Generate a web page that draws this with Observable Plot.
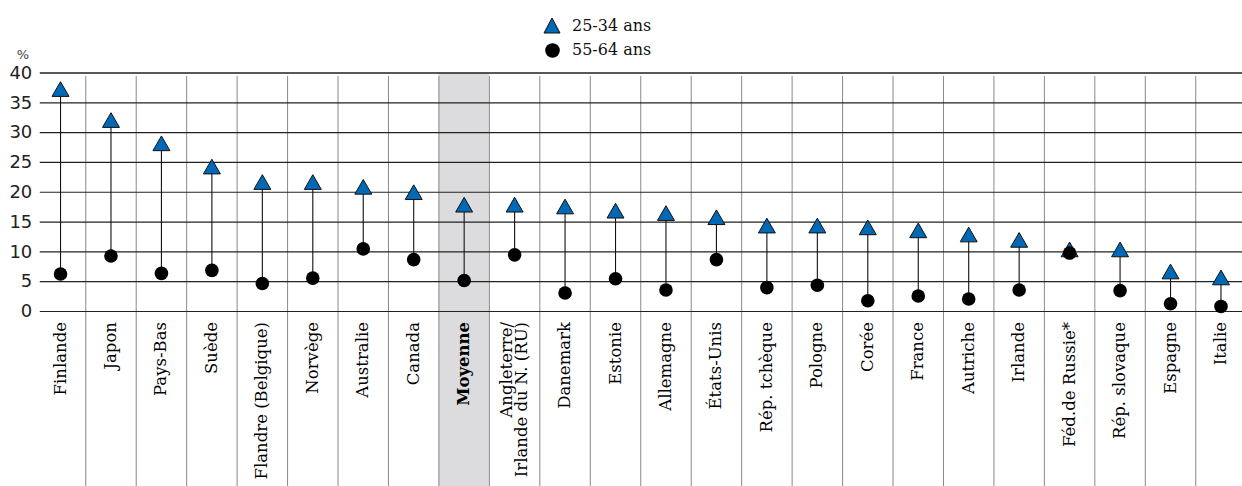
<!DOCTYPE html>
<html>
<head>
<meta charset="utf-8">
<script src="https://cdn.jsdelivr.net/npm/d3@7"></script>
<script src="https://cdn.jsdelivr.net/npm/@observablehq/plot@0.6"></script>
<style>
  body { margin: 0; background: #fff; }
  #wrap { position: relative; width: 1242px; height: 486px; }
  .leg { position: absolute; font-family: "DejaVu Serif", serif; font-size: 16px; line-height: 20px; color: #111; white-space: nowrap; }
  .sym { position: absolute; }
</style>
</head>
<body>
<div id="wrap">
  <svg class="sym" style="left:543px;top:17px" width="18" height="17"><polygon points="9,1 17,16 1,16" fill="#0068b4" stroke="#111" stroke-width="1"/></svg>
  <div class="leg" style="left:572px;top:16px">25-34 ans</div>
  <svg class="sym" style="left:544px;top:42px" width="17" height="17"><circle cx="8.5" cy="8.5" r="7.3" fill="#000"/></svg>
  <div class="leg" style="left:572px;top:40px">55-64 ans</div>
</div>
<script>
const countries = ["Finlande","Japon","Pays-Bas","Suède","Flandre (Belgique)","Norvège","Australie","Canada","Moyenne","Angleterre/\nIrlande du N. (RU)","Danemark","Estonie","Allemagne","États-Unis","Rép. tchèque","Pologne","Corée","France","Autriche","Irlande","Féd.de Russie*","Rép. slovaque","Espagne","Italie"];
const young = [36.9, 31.7, 27.8, 23.9, 21.3, 21.3, 20.5, 19.6, 17.5, 17.5, 17.2, 16.5, 16.1, 15.4, 14.0, 14.0, 13.7, 13.2, 12.5, 11.6, 10.0, 10.0, 6.3, 5.3];
const old = [6.3, 9.3, 6.4, 6.9, 4.7, 5.6, 10.5, 8.7, 5.2, 9.5, 3.1, 5.5, 3.6, 8.7, 4.0, 4.4, 1.8, 2.6, 2.1, 3.6, 9.8, 3.5, 1.3, 0.85];
const yTicks = [0, 5, 10, 15, 20, 25, 30, 35, 40];
const average = "Moyenne";

const data = countries.map((c, i) => ({country: c, young: young[i], old: old[i]}));
const xRange = [34.8, 1245.7];
const bw = (xRange[1] - xRange[0]) / countries.length;
const yBottom = -30;

const chart = Plot.plot({
  width: 1242,
  height: 486,
  marginLeft: 34.8,
  marginRight: 0,
  marginTop: 72.5,
  marginBottom: 175,
  style: {fontFamily: "DejaVu Sans", background: "transparent", overflow: "visible"},
  x: {type: "band", domain: countries, range: xRange, padding: 0, round: false, axis: null},
  y: {domain: [0, 40], range: [311, 72.5]},
  marks: [
    Plot.barY([average], {x: d => d, y1: 40, y2: yBottom, fill: "#dcdcde", insetLeft: 0, insetRight: 0}),
    Plot.ruleX(countries.slice(1), {x: d => d, dx: -bw / 2, y1: 39.4, y2: yBottom, stroke: "#8a8a8a", strokeWidth: 1}),
    Plot.ruleY(yTicks, {y: d => d, stroke: "#222", strokeWidth: d => d === 40 ? 1.6 : 1.2, insetLeft: 5}),
    Plot.ruleX(data, {x: "country", y1: "old", y2: "young", stroke: "#111", strokeWidth: 1.1}),
    Plot.dot(data, {x: "country", y: "young", symbol: "triangle", r: 6.3, fill: "#0068b4", stroke: "#111", strokeWidth: 1}),
    Plot.dot(data, {x: "country", y: "old", r: 6.8, fill: "#000", stroke: "none"}),
    Plot.axisY(yTicks, {tickSize: 0, tickPadding: 3, fontSize: 18, label: null, fill: "#222"}),
    Plot.text(["%"], {frameAnchor: "top-left", dx: -12.3, dy: -23, textAnchor: "middle", fontSize: 13, fill: "#444", fontFamily: "DejaVu Sans"}),
    Plot.text(data.filter(d => d.country !== average), {x: "country", y: 0, text: "country", rotate: -90, textAnchor: "end", dy: 10.5, fontSize: 16.5, fontFamily: "DejaVu Serif", fill: "#000", lineHeight: 0.95}),
    Plot.text(data.filter(d => d.country === average), {x: "country", y: 0, text: "country", rotate: -90, textAnchor: "end", dy: 10.5, fontSize: 16.5, fontFamily: "DejaVu Serif", fontWeight: "bold", fill: "#000"})
  ]
});
chart.style.position = "absolute";
chart.style.left = "0";
chart.style.top = "0";
document.getElementById("wrap").prepend(chart);
</script>
</body>
</html>
